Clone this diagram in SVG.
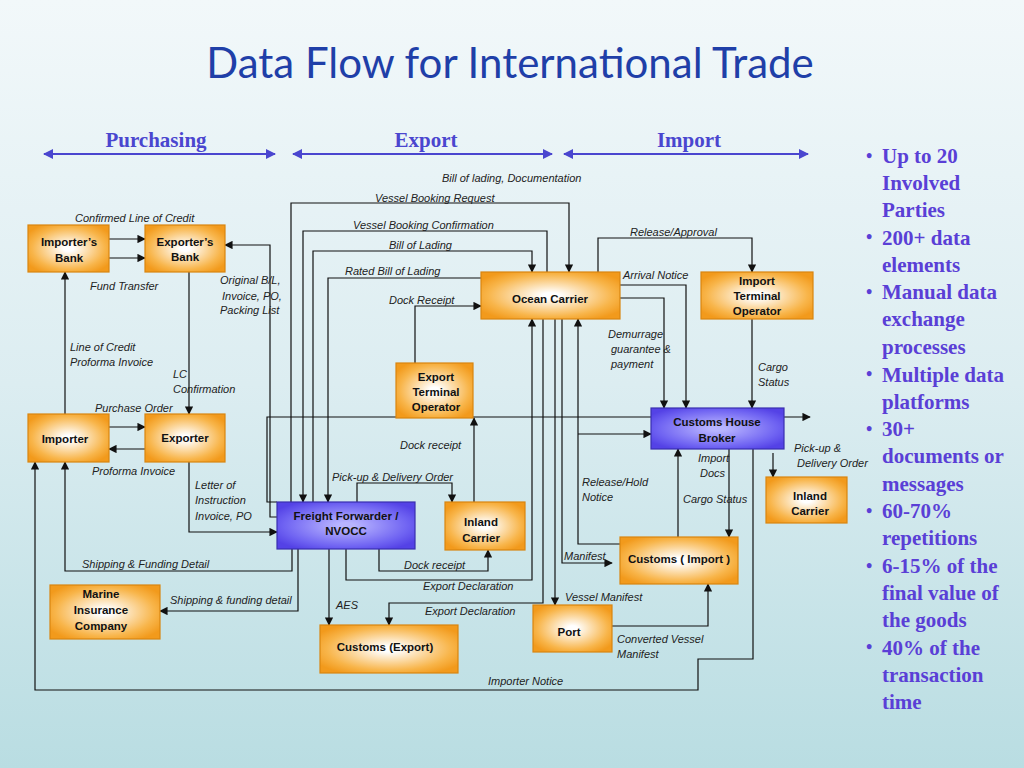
<svg xmlns="http://www.w3.org/2000/svg" width="1024" height="768" viewBox="0 0 1024 768">
<defs>
<linearGradient id="bg" x1="0" y1="0" x2="0" y2="1"><stop offset="0" stop-color="#f2f8fa"/><stop offset="0.5" stop-color="#dcedf1"/><stop offset="1" stop-color="#b9dde2"/></linearGradient>
<radialGradient id="og" cx="0.5" cy="0.5" r="0.6"><stop offset="0.1" stop-color="#ffffff"/><stop offset="0.75" stop-color="#f8b54a"/><stop offset="1" stop-color="#f29a1c"/></radialGradient>
<radialGradient id="bl" cx="0.5" cy="0.5" r="0.6"><stop offset="0.1" stop-color="#b8b4ff"/><stop offset="0.75" stop-color="#6f63f2"/><stop offset="1" stop-color="#5442e6"/></radialGradient>
<marker id="a" viewBox="0 0 10 10" refX="9" refY="5" markerWidth="7" markerHeight="7" orient="auto"><path d="M0,0L10,5L0,10z" fill="#111"/></marker>
<marker id="b" viewBox="0 0 10 10" refX="9" refY="5" markerWidth="5" markerHeight="5" orient="auto-start-reverse"><path d="M0,0L10,5L0,10z" fill="#4a46cf"/></marker>
<style>
.n{fill:url(#og);stroke:#d98510;stroke-width:1.2}
.nb{fill:url(#bl);stroke:#3a2fb0;stroke-width:1.2}
.t{font-family:"Liberation Sans",Arial,sans-serif;font-weight:bold;font-size:11.5px;fill:#111;text-anchor:middle}
.l{font-family:"Liberation Sans",Arial,sans-serif;font-style:italic;font-size:11px;fill:#222}
.c path{fill:none;stroke:#111;stroke-width:1.2}
.h{font-family:"Liberation Serif","Times New Roman",serif;font-weight:bold;font-size:21px;fill:#4a46cf;text-anchor:middle}
.bu{font-family:"Liberation Serif","Times New Roman",serif;font-weight:bold;font-size:21px;fill:#5a3fd6}
</style>
</defs>
<rect width="1024" height="768" fill="url(#bg)"/>
<text x="510" y="78" font-family="Lato,'Open Sans',sans-serif" font-size="42" fill="#1f3fa8" text-anchor="middle">Data Flow for International Trade</text>
<text class="h" x="156" y="147">Purchasing</text>
<text class="h" x="426" y="147">Export</text>
<text class="h" x="689" y="147">Import</text>
<g stroke="#4a46cf" stroke-width="2" marker-start="url(#b)" marker-end="url(#b)">
<line x1="44" y1="154" x2="275" y2="154"/><line x1="293" y1="154" x2="552" y2="154"/><line x1="564" y1="154" x2="808" y2="154"/>
</g>
<g class="c">
<path d="M109,239H145" marker-end="url(#a)"/>
<path d="M109,258H145" marker-end="url(#a)"/>
<path d="M65,414V272" marker-end="url(#a)"/>
<path d="M189,272V414" marker-end="url(#a)"/>
<path d="M109,427H145" marker-end="url(#a)"/>
<path d="M145,449H109" marker-end="url(#a)"/>
<path d="M189,462V532H277" marker-end="url(#a)"/>
<path d="M277,517H270V245H225" marker-end="url(#a)"/>
<path d="M277,502H267V417H810" marker-end="url(#a)"/>
<path d="M291,502V203H569V272" marker-end="url(#a)"/>
<path d="M547,272V231H303V502" marker-end="url(#a)"/>
<path d="M313,502V251H532V272" marker-end="url(#a)"/>
<path d="M481,278H328V502" marker-end="url(#a)"/>
<path d="M415,363V306H481" marker-end="url(#a)"/>
<path d="M598,272V238H752V272" marker-end="url(#a)"/>
<path d="M620,285H686V408" marker-end="url(#a)"/>
<path d="M620,298H664V408" marker-end="url(#a)"/>
<path d="M752,319V408" marker-end="url(#a)"/>
<path d="M620,544H578V319" marker-end="url(#a)"/>
<path d="M578,434H651" marker-end="url(#a)"/>
<path d="M562,319V563H612" marker-end="url(#a)"/>
<path d="M555,319V605" marker-end="url(#a)"/>
<path d="M543,319V603H389V625" marker-end="url(#a)"/>
<path d="M346,549V580H532V319" marker-end="url(#a)"/>
<path d="M474,502V418" marker-end="url(#a)"/>
<path d="M357,502V483H452V502" marker-end="url(#a)"/>
<path d="M379,549V571H488V550" marker-end="url(#a)"/>
<path d="M329,549V625" marker-end="url(#a)"/>
<path d="M292,549V571H65V462" marker-end="url(#a)"/>
<path d="M298,549V611H160" marker-end="url(#a)"/>
<path d="M753,449V659H698V690H35V462" marker-end="url(#a)"/>
<path d="M729,449V537" marker-end="url(#a)"/>
<path d="M678,537V449" marker-end="url(#a)"/>
<path d="M773,453V477" marker-end="url(#a)"/>
<path d="M612,626H708V584" marker-end="url(#a)"/>
</g>
<g id="n-ib"><rect class="n" x="28" y="225" width="81" height="47"/><text class="t" x="69" y="246">Importer’s</text><text class="t" x="69" y="262">Bank</text></g>
<g id="n-eb"><rect class="n" x="145" y="225" width="80" height="47"/><text class="t" x="185" y="246">Exporter’s</text><text class="t" x="185" y="261">Bank</text></g>
<g id="n-imp"><rect class="n" x="28" y="414" width="81" height="48"/><text class="t" x="65" y="443">Importer</text></g>
<g id="n-exp"><rect class="n" x="145" y="414" width="80" height="48"/><text class="t" x="185" y="442">Exporter</text></g>
<g id="n-oc"><rect class="n" x="481" y="272" width="139" height="47"/><text class="t" x="550" y="303">Ocean Carrier</text></g>
<g id="n-ito"><rect class="n" x="701" y="272" width="112" height="47"/><text class="t" x="757" y="285">Import</text><text class="t" x="757" y="300">Terminal</text><text class="t" x="757" y="315">Operator</text></g>
<g id="n-eto"><rect class="n" x="396" y="363" width="77" height="55"/><text class="t" x="436" y="381">Export</text><text class="t" x="436" y="396">Terminal</text><text class="t" x="436" y="411">Operator</text></g>
<g id="n-chb"><rect class="nb" x="651" y="408" width="133" height="41"/><text class="t" x="717" y="426">Customs House</text><text class="t" x="717" y="442">Broker</text></g>
<g id="n-ic2"><rect class="n" x="766" y="477" width="81" height="46"/><text class="t" x="810" y="500">Inland</text><text class="t" x="810" y="515">Carrier</text></g>
<g id="n-ff"><rect class="nb" x="277" y="502" width="138" height="47"/><text class="t" x="346" y="520">Freight Forwarder /</text><text class="t" x="346" y="535">NVOCC</text></g>
<g id="n-ic1"><rect class="n" x="445" y="502" width="80" height="48"/><text class="t" x="481" y="526">Inland</text><text class="t" x="481" y="542">Carrier</text></g>
<g id="n-ci"><rect class="n" x="620" y="537" width="118" height="47"/><text class="t" x="679" y="563">Customs ( Import )</text></g>
<g id="n-mi"><rect class="n" x="50" y="585" width="110" height="54"/><text class="t" x="101" y="598">Marine</text><text class="t" x="101" y="614">Insurance</text><text class="t" x="101" y="630">Company</text></g>
<g id="n-port"><rect class="n" x="533" y="605" width="79" height="47"/><text class="t" x="569" y="636">Port</text></g>
<g id="n-ce"><rect class="n" x="320" y="625" width="138" height="48"/><text class="t" x="385" y="651">Customs (Export)</text></g>
<g id="labels">
<text class="l" x="442" y="182">Bill of lading, Documentation</text>
<text class="l" x="375" y="202">Vessel Booking Request</text>
<text class="l" x="353" y="229">Vessel Booking Confirmation</text>
<text class="l" x="389" y="249">Bill of Lading</text>
<text class="l" x="345" y="275">Rated Bill of Lading</text>
<text class="l" x="389" y="304">Dock Receipt</text>
<text class="l" x="75" y="222">Confirmed Line of Credit</text>
<text class="l" x="90" y="290">Fund Transfer</text>
<text class="l" x="220" y="284">Original B/L,</text>
<text class="l" x="222" y="300">Invoice, PO,</text>
<text class="l" x="220" y="314">Packing List</text>
<text class="l" x="70" y="351">Line of Credit</text>
<text class="l" x="70" y="366">Proforma Invoice</text>
<text class="l" x="173" y="378">LC</text>
<text class="l" x="173" y="393">Confirmation</text>
<text class="l" x="95" y="412">Purchase Order</text>
<text class="l" x="92" y="475">Proforma Invoice</text>
<text class="l" x="195" y="489">Letter of</text>
<text class="l" x="195" y="504">Instruction</text>
<text class="l" x="195" y="520">Invoice, PO</text>
<text class="l" x="400" y="449">Dock receipt</text>
<text class="l" x="332" y="481">Pick-up &amp; Delivery Order</text>
<text class="l" x="82" y="568">Shipping &amp; Funding Detail</text>
<text class="l" x="170" y="604">Shipping &amp; funding detail</text>
<text class="l" x="404" y="569">Dock receipt</text>
<text class="l" x="423" y="590">Export Declaration</text>
<text class="l" x="336" y="609">AES</text>
<text class="l" x="425" y="615">Export Declaration</text>
<text class="l" x="488" y="685">Importer Notice</text>
<text class="l" x="630" y="236">Release/Approval</text>
<text class="l" x="623" y="279">Arrival Notice</text>
<text class="l" x="608" y="338">Demurrage</text>
<text class="l" x="611" y="353">guarantee &amp;</text>
<text class="l" x="611" y="368">payment</text>
<text class="l" x="758" y="371">Cargo</text>
<text class="l" x="758" y="386">Status</text>
<text class="l" x="794" y="452">Pick-up &amp;</text>
<text class="l" x="797" y="467">Delivery Order</text>
<text class="l" x="698" y="462">Import</text>
<text class="l" x="700" y="477">Docs</text>
<text class="l" x="582" y="486">Release/Hold</text>
<text class="l" x="582" y="501">Notice</text>
<text class="l" x="683" y="503">Cargo Status</text>
<text class="l" x="564" y="560">Manifest</text>
<text class="l" x="565" y="601">Vessel Manifest</text>
<text class="l" x="617" y="643">Converted Vessel</text>
<text class="l" x="617" y="658">Manifest</text>
</g>
<g id="bullets" class="bu">
<text x="866" y="162" font-size="18">•</text><text x="882" y="163">Up to 20</text><text x="882" y="190">Involved</text><text x="882" y="217">Parties</text>
<text x="866" y="243" font-size="18">•</text><text x="882" y="245">200+ data</text><text x="882" y="272">elements</text>
<text x="866" y="298" font-size="18">•</text><text x="882" y="299">Manual data</text><text x="882" y="326">exchange</text><text x="882" y="354">processes</text>
<text x="866" y="380" font-size="18">•</text><text x="882" y="382">Multiple data</text><text x="882" y="409">platforms</text>
<text x="866" y="435" font-size="18">•</text><text x="882" y="436">30+</text><text x="882" y="463">documents or</text><text x="882" y="491">messages</text>
<text x="866" y="517" font-size="18">•</text><text x="882" y="518">60-70%</text><text x="882" y="545">repetitions</text>
<text x="866" y="572" font-size="18">•</text><text x="882" y="573">6-15% of the</text><text x="882" y="600">final value of</text><text x="882" y="627">the goods</text>
<text x="866" y="653" font-size="18">•</text><text x="882" y="655">40% of the</text><text x="882" y="682">transaction</text><text x="882" y="709">time</text>
</g>
</svg>
